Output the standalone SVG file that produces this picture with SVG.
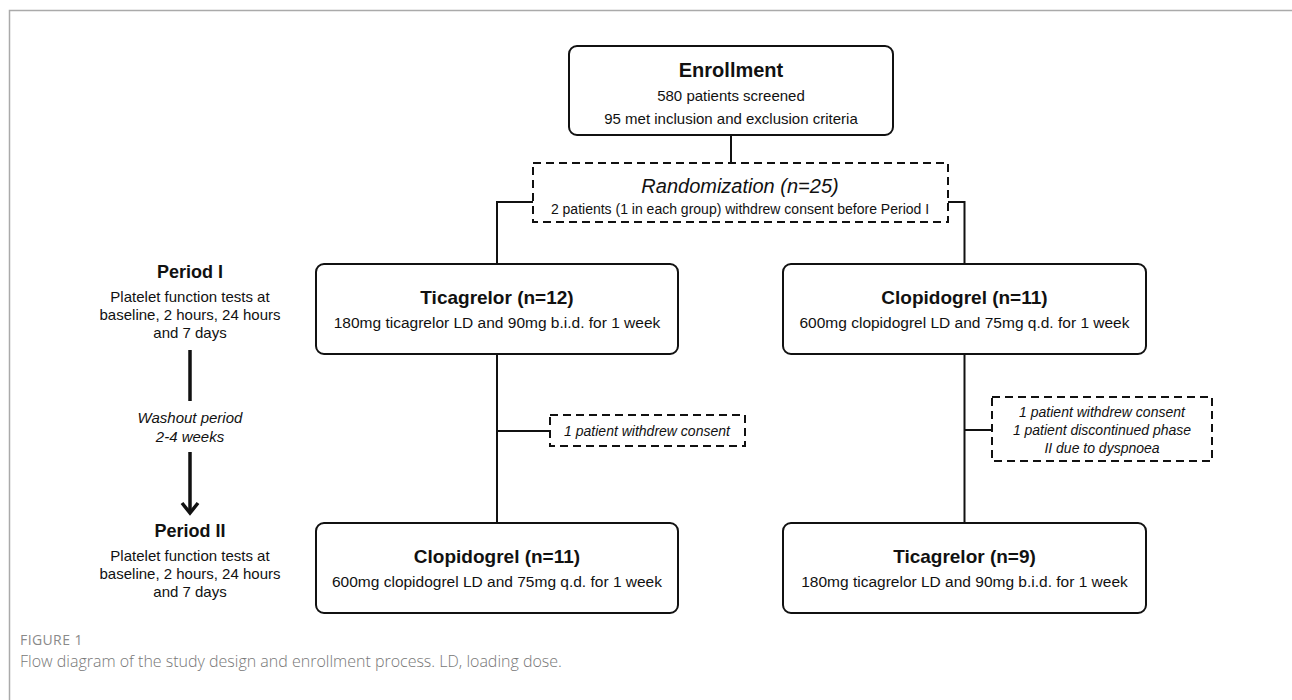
<svg xmlns="http://www.w3.org/2000/svg" width="1292" height="700" viewBox="0 0 1292 700">
<style>
.box{fill:#fff;stroke:#111;stroke-width:2}
.dash{fill:#fff;stroke:#111;stroke-width:2;stroke-dasharray:8,5}
.ln{fill:none;stroke:#111;stroke-width:2}
.thick{fill:none;stroke:#111;stroke-width:3.5}
text{font-family:"Liberation Sans",Arial,sans-serif;fill:#111;text-anchor:middle}
.t{font-size:19px;font-weight:bold}
.s{font-size:15.5px}
.l{font-size:15px}
.it{font-style:italic}
.cap{font-family:"Open Sans","Liberation Sans",sans-serif;text-anchor:start;fill:#777}
</style>
<rect x="0" y="0" width="1292" height="700" fill="#fff"/>
<path d="M9.5,700 V10.5 H1292" fill="none" stroke="#aaa" stroke-width="1.5"/>

<g id="connectors">
<line class="ln" x1="731" y1="135" x2="731" y2="163"/>
<polyline class="ln" points="533,202 497,202 497,264"/>
<polyline class="ln" points="948,202 964.5,202 964.5,264"/>
<line class="ln" x1="497" y1="354" x2="497" y2="523"/>
<line class="ln" x1="497" y1="431" x2="550" y2="431"/>
<line class="ln" x1="964.5" y1="354" x2="964.5" y2="523"/>
<line class="ln" x1="964.5" y1="430" x2="992" y2="430"/>
</g>

<g id="enrollment">
<rect class="box" x="569" y="46" width="324" height="89" rx="8"/>
<text x="731" y="77" style="font-size:20px;font-weight:bold">Enrollment</text>
<text x="731" y="101" style="font-size:15px">580 patients screened</text>
<text x="731" y="124" style="font-size:15px">95 met inclusion and exclusion criteria</text>
</g>

<g id="randomization">
<rect class="dash" x="533" y="163" width="415" height="59"/>
<text class="it" x="740" y="193" style="font-size:20px">Randomization (n=25)</text>
<text x="740" y="214" style="font-size:14px">2 patients (1 in each group) withdrew consent before Period I</text>
</g>

<g id="ticagrelor1">
<rect class="box" x="316" y="264" width="362" height="90" rx="8"/>
<text class="t" x="497" y="304">Ticagrelor (n=12)</text>
<text class="s" x="497" y="328">180mg ticagrelor LD and 90mg b.i.d. for 1 week</text>
</g>

<g id="clopidogrel1">
<rect class="box" x="783" y="264" width="363" height="90" rx="8"/>
<text class="t" x="964.5" y="304">Clopidogrel (n=11)</text>
<text class="s" x="964.5" y="328">600mg clopidogrel LD and 75mg q.d. for 1 week</text>
</g>

<g id="withdraw1">
<rect class="dash" x="550" y="415" width="195" height="31"/>
<text class="it" x="647" y="436" style="font-size:14px">1 patient withdrew consent</text>
</g>

<g id="withdraw2">
<rect class="dash" x="992" y="397" width="220" height="64"/>
<text class="it" x="1102" y="417" style="font-size:14px">1 patient withdrew consent</text>
<text class="it" x="1102" y="435" style="font-size:14px">1 patient discontinued phase</text>
<text class="it" x="1102" y="453" style="font-size:14px">II due to dyspnoea</text>
</g>

<g id="clopidogrel2">
<rect class="box" x="316" y="523" width="362" height="90" rx="8"/>
<text class="t" x="497" y="563">Clopidogrel (n=11)</text>
<text class="s" x="497" y="587">600mg clopidogrel LD and 75mg q.d. for 1 week</text>
</g>

<g id="ticagrelor2">
<rect class="box" x="783" y="523" width="363" height="90" rx="8"/>
<text class="t" x="964.5" y="563">Ticagrelor (n=9)</text>
<text class="s" x="964.5" y="587">180mg ticagrelor LD and 90mg b.i.d. for 1 week</text>
</g>

<g id="period1">
<text x="190" y="278" style="font-size:18px;font-weight:bold">Period I</text>
<text class="l" x="190" y="302">Platelet function tests at</text>
<text class="l" x="190" y="320">baseline, 2 hours, 24 hours</text>
<text class="l" x="190" y="338">and 7 days</text>
</g>

<g id="washout">
<line class="thick" x1="190" y1="350" x2="190" y2="401"/>
<text class="it" x="190" y="423" style="font-size:15px">Washout period</text>
<text class="it" x="190" y="442" style="font-size:15px">2-4 weeks</text>
<line class="thick" x1="190" y1="452" x2="190" y2="512"/>
<polyline class="thick" points="182,503 190,513 198,503"/>
</g>

<g id="period2">
<text x="190" y="537" style="font-size:18px;font-weight:bold">Period II</text>
<text class="l" x="190" y="561">Platelet function tests at</text>
<text class="l" x="190" y="579">baseline, 2 hours, 24 hours</text>
<text class="l" x="190" y="597">and 7 days</text>
</g>

<g id="caption">
<text class="cap" x="20" y="645" style="font-size:14px;letter-spacing:0.4px;fill:#8a8a8a">FIGURE 1</text>
<text class="cap" x="20" y="667" style="font-size:16px;font-weight:300">Flow diagram of the study design and enrollment process. LD, loading dose.</text>
</g>
</svg>
